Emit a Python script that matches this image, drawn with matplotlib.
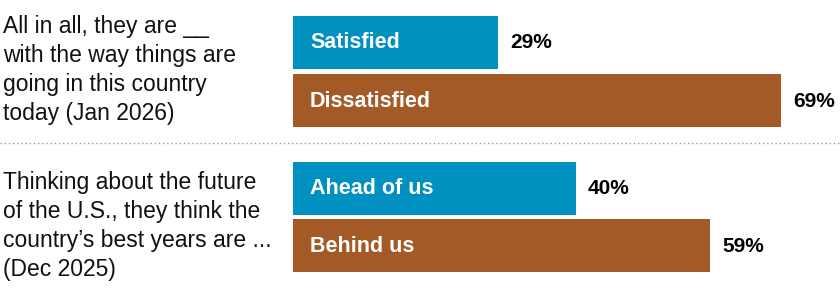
import matplotlib.pyplot as plt
from matplotlib.lines import Line2D

questions = [
    "All in all, they are __\nwith the way things are\ngoing in this country\ntoday (Jan 2026)",
    "Thinking about the future\nof the U.S., they think the\ncountry\u2019s best years are ...\n(Dec 2025)",
]
labels = ["Satisfied", "Dissatisfied", "Ahead of us", "Behind us"]
values = [29, 69, 40, 59]

blue = "#0091C1"
brown = "#A35A27"
colors = [blue, brown, blue, brown]

W, H = 840, 293
fig = plt.figure(figsize=(W / 100, H / 100), dpi=100)

# bars axis: starts at x=293 px, 1 pct = 7.07 px
x0 = 293
scale = 7.07
ax = fig.add_axes([x0 / W, 0, 1 - x0 / W, 1])
ax.set_xlim(0, (W - x0) / scale)
ax.set_ylim(H, 0)
ax.axis("off")

ypos = [42, 100.5, 188, 245.5]
ax.barh(ypos, values, height=53, color=colors)

for y, v, lab in zip(ypos, values, labels):
    ax.text(2.4, y + 1, lab, color="white", fontsize=15.5, fontweight="bold",
            va="center", ha="left", family="Liberation Sans")
    ax.text(v + 1.7, y + 1, f"{v}%", color="black", fontsize=15, fontweight="bold",
            va="center", ha="left", family="Liberation Sans")

# question text on the left
for q, yc in zip(questions, [70, 226]):
    fig.text(3 / W, 1 - yc / H, q, fontsize=16.5, va="center", ha="left",
             linespacing=1.32, family="Liberation Sans", color="#111111")

# dotted divider
fig.add_artist(Line2D([0, 1], [1 - 143 / H, 1 - 143 / H], transform=fig.transFigure,
                      color="#999999", linestyle=(0, (1, 2)), linewidth=1))

fig.savefig("out.png", dpi=100)
